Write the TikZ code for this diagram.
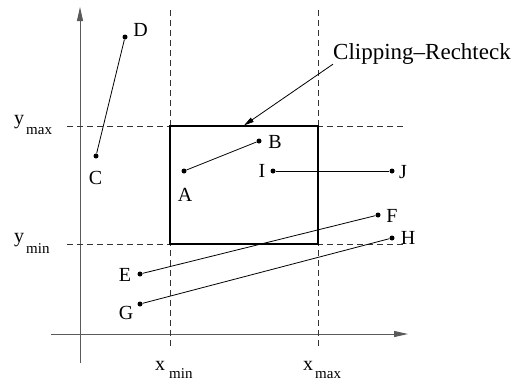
\documentclass[tikz,border=0pt]{standalone}
\usepackage{fontspec}
\setmainfont{Liberation Serif}
\usepackage{tikz}
\usetikzlibrary{arrows.meta, positioning}
\definecolor{axisgray}{HTML}{5A5A5A}

\begin{document}
\begin{tikzpicture}[x=1pt, y=-1pt,
    endpt/.style={circle, fill=black, inner sep=0pt, minimum size=5pt},
    ptlabel/.style={font=\fontsize{20}{20}\selectfont, inner sep=0pt},
    axlabel/.style={font=\fontsize{20}{20}\selectfont, inner sep=0pt, anchor=base west},
    guide/.style={dash pattern=on 6pt off 4pt, line width=0.8pt, black!80},
    seg/.style={line width=0.8pt}]
    \useasboundingbox (0,0) rectangle (519,381);

    % axes
    \coordinate (xstart) at (51,334);
    \coordinate (xend) at (408,334);
    \coordinate (ystart) at (80,363);
    \coordinate (yend) at (80,7);
    \draw[axisgray, line width=1pt, -{Triangle[length=14pt, width=6pt]}] (xstart) -- (xend);
    \draw[axisgray, line width=1pt, -{Triangle[length=14pt, width=6pt]}] (ystart) -- (yend);

    % clipping limits
    \draw[guide] (170,10) -- (170,348);
    \draw[guide] (318,10) -- (318,348);
    \draw[guide] (67,126) -- (405,126);
    \draw[guide] (67,244) -- (405,244);
    \node[draw, line width=1.2pt, minimum width=148pt, minimum height=118pt, inner sep=0pt] (rect) at (244,185) {};

    \node[axlabel] (ymax) at (14,124) {y\hspace{2pt}\raisebox{-10pt}{\fontsize{15}{15}\selectfont max}};
    \node[axlabel] (ymin) at (14,242) {y\hspace{2pt}\raisebox{-11pt}{\fontsize{15}{15}\selectfont min}};
    \node[axlabel] (xmin) at (155,370) {x\hspace{4pt}\raisebox{-8pt}{\fontsize{15}{15}\selectfont min}};
    \node[axlabel] (xmax) at (303,370) {x\hspace{2pt}\raisebox{-8pt}{\fontsize{15}{15}\selectfont max}};

    \node[font=\fontsize{23}{23}\selectfont, inner sep=0pt, anchor=base west] (clip) at (333,59) {Clipping--Rechteck};
    \draw[line width=0.8pt, -{Triangle[length=10pt, width=5pt]}] (clip.south west) -- (rect.north);

    % line end points
    \node[endpt] (A) at (184,171) {};
    \node[endpt] (B) at (259,141) {};
    \node[endpt] (C) at (96,156) {};
    \node[endpt] (D) at (125,37) {};
    \node[endpt] (E) at (140,274) {};
    \node[endpt] (F) at (378,215) {};
    \node[endpt] (G) at (140,304) {};
    \node[endpt] (H) at (392,238) {};
    \node[endpt] (I) at (273,171) {};
    \node[endpt] (J) at (392,171) {};

    \node[ptlabel] (Alabel) at (185,195) {A};
    \node[ptlabel] (Blabel) at (275,142) {B};
    \node[ptlabel] (Clabel) at (95.5,178) {C};
    \node[ptlabel] (Dlabel) at (140.5,30) {D};
    \node[ptlabel] (Elabel) at (125,275) {E};
    \node[ptlabel] (Flabel) at (392,215.5) {F};
    \node[ptlabel] (Glabel) at (126,312.5) {G};
    \node[ptlabel] (Hlabel) at (408,237.5) {H};
    \node[ptlabel] (Ilabel) at (262,171) {I};
    \node[ptlabel] (Jlabel) at (403,172) {J};

    \draw[seg] (C) -- (D);
    \draw[seg] (A) -- (B);
    \draw[seg] (I) -- (J);
    \draw[seg] (E) -- (F);
    \draw[seg] (G) -- (H);
\end{tikzpicture}
\end{document}
